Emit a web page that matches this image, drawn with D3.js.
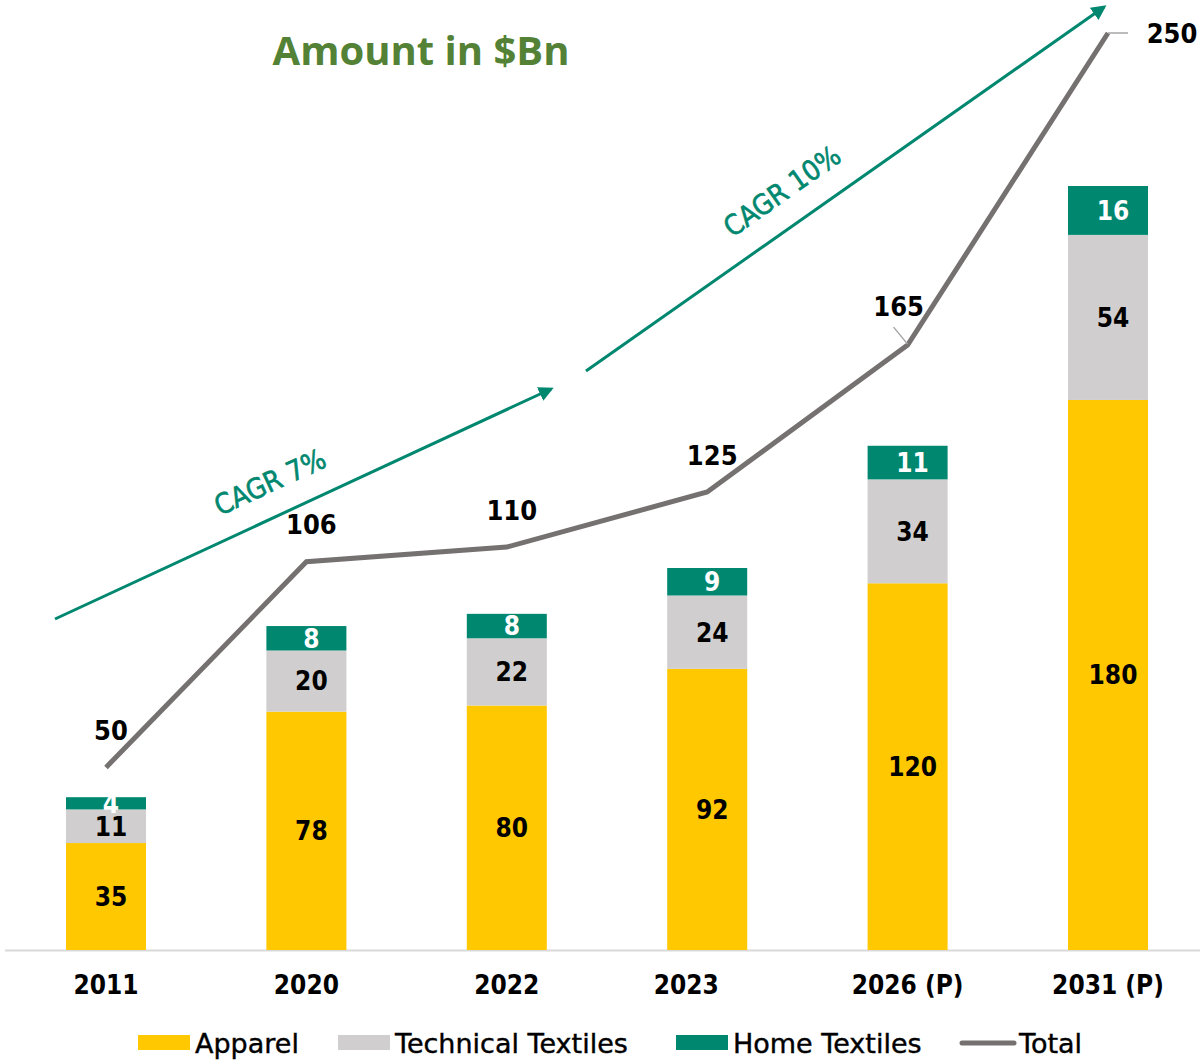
<!DOCTYPE html>
<html>
<head>
<meta charset="utf-8">
<script src="https://cdn.jsdelivr.net/npm/d3@7"></script>
<style>
  body { margin: 0; background: #fff; }
  text { font-family: "DejaVu Sans", sans-serif; font-stretch: condensed; }
</style>
</head>
<body>
<div id="chart"></div>
<script>
// data
const years = ["2011", "2020", "2022", "2023", "2026 (P)", "2031 (P)"];
const apparel = [35, 78, 80, 92, 120, 180];
const technical = [11, 20, 22, 24, 34, 54];
const home = [4, 8, 8, 9, 11, 16];
const total = [50, 106, 110, 125, 165, 250];
const seriesNames = ["Apparel", "Technical Textiles", "Home Textiles", "Total"];

const width = 1204, height = 1060;
const colors = {Apparel: "#ffc800", "Technical Textiles": "#d0cece", "Home Textiles": "#00876f", Total: "#767171"};

const svg = d3.select("#chart").append("svg")
    .attr("width", width)
    .attr("height", height);

// scales
const x = d3.scalePoint().domain(years).range([5.8, 1208.2]).padding(0.5);
const yBar = d3.scaleLinear().domain([0, 250]).range([950, 186]);
const yLine = d3.scaleLinear().domain([0, 250]).range([951, 33]);
const barW = 80;

// title
svg.append("text")
    .attr("x", 421).attr("y", 65)
    .attr("text-anchor", "middle")
    .style("font-family", "'Open Sans', sans-serif")
    .style("font-stretch", "normal")
    .style("font-weight", "bold")
    .style("font-size", "40px")
    .style("fill", "#538135")
    .text("Amount in $Bn");

// CAGR arrows
svg.append("defs").append("marker")
    .attr("id", "arrow")
    .attr("viewBox", "0 0 10 10")
    .attr("refX", 8).attr("refY", 5)
    .attr("markerWidth", 5).attr("markerHeight", 5)
    .attr("orient", "auto")
    .append("path")
    .attr("d", "M0,0 L10,5 L0,10 z")
    .style("fill", "#00876f");

const arrows = [
    {x1: 55, y1: 619, x2: 551, y2: 389, label: "CAGR 7%", lx: 270, ly: 482},
    {x1: 586, y1: 371, x2: 1104, y2: 7, label: "CAGR 10%", lx: 782, ly: 191}
];
arrows.forEach(function(a) {
    svg.append("line")
        .attr("x1", a.x1).attr("y1", a.y1)
        .attr("x2", a.x2).attr("y2", a.y2)
        .style("stroke", "#00876f")
        .style("stroke-width", 3)
        .attr("marker-end", "url(#arrow)");
    const ang = Math.atan2(a.y2 - a.y1, a.x2 - a.x1) * 180 / Math.PI;
    svg.append("text")
        .attr("transform", "translate(" + a.lx + "," + a.ly + ") rotate(" + ang + ")")
        .attr("text-anchor", "middle")
        .attr("dy", "0.35em")
        .style("font-size", "28px")
        .style("fill", "#00876f")
        .style("stroke", "#00876f")
        .style("stroke-width", 0.6)
        .text(a.label);
});

// x axis line
svg.append("line")
    .attr("x1", 5).attr("x2", 1200)
    .attr("y1", 950.5).attr("y2", 950.5)
    .style("stroke", "#d9d9d9")
    .style("stroke-width", 2);

// stacked bars
const rows = years.map(function(y, i) {
    return {year: y, Apparel: apparel[i], "Technical Textiles": technical[i], "Home Textiles": home[i]};
});
const stack = d3.stack().keys(["Apparel", "Technical Textiles", "Home Textiles"])(rows);

const layer = svg.selectAll(".layer")
    .data(stack)
    .enter().append("g")
    .attr("class", "layer")
    .style("fill", function(d) { return colors[d.key]; });

layer.selectAll("rect")
    .data(function(d) { return d; })
    .enter().append("rect")
    .attr("x", function(d) { return x(d.data.year) - barW / 2; })
    .attr("width", barW)
    .attr("y", function(d) { return yBar(d[1]); })
    .attr("height", function(d) { return yBar(d[0]) - yBar(d[1]); });

layer.selectAll("text")
    .data(function(d) { return d.map(function(v) { v.key = d.key; return v; }); })
    .enter().append("text")
    .attr("x", function(d) { return x(d.data.year) + 5; })
    .attr("y", function(d) { return (yBar(d[0]) + yBar(d[1])) / 2; })
    .attr("dy", "0.36em")
    .attr("text-anchor", "middle")
    .style("font-weight", "bold")
    .style("font-size", "26px")
    .style("fill", function(d) { return d.key === "Home Textiles" ? "#fff" : "#000"; })
    .text(function(d) { return d[1] - d[0]; });

// total line
const line = d3.line()
    .x(function(d, i) { return x(years[i]); })
    .y(function(d) { return yLine(d); });

svg.append("path")
    .datum(total)
    .attr("d", line)
    .style("fill", "none")
    .style("stroke", colors.Total)
    .style("stroke-width", 5);

// leader lines for moved labels
svg.append("line")
    .attr("x1", x(years[4]) - 14).attr("y1", yLine(total[4]) - 18)
    .attr("x2", x(years[4])).attr("y2", yLine(total[4]) - 1)
    .style("stroke", "#a6a6a6").style("stroke-width", 1.5);
svg.append("line")
    .attr("x1", x(years[5])).attr("y1", yLine(total[5]))
    .attr("x2", x(years[5]) + 20).attr("y2", yLine(total[5]))
    .style("stroke", "#a6a6a6").style("stroke-width", 1.5);

svg.selectAll(".total-label")
    .data(total)
    .enter().append("text")
    .attr("class", "total-label")
    .attr("x", function(d, i) {
        if (i === 4) return x(years[i]) - 9;
        if (i === 5) return x(years[i]) + 64;
        return x(years[i]) + 5;
    })
    .attr("y", function(d, i) {
        if (i === 4) return yLine(d) - 39;
        if (i === 5) return yLine(d);
        return yLine(d) - 37;
    })
    .attr("dy", "0.36em")
    .attr("text-anchor", "middle")
    .style("font-weight", "bold")
    .style("font-size", "27px")
    .style("fill", "#000")
    .text(function(d) { return d; });

// x labels
svg.selectAll(".xlabel")
    .data(years)
    .enter().append("text")
    .attr("class", "xlabel")
    .attr("x", function(d) { return x(d) + (d === "2023" ? -21 : 0); })
    .attr("y", 985)
    .attr("dy", "0.36em")
    .attr("text-anchor", "middle")
    .style("font-weight", "bold")
    .style("font-size", "26px")
    .style("fill", "#000")
    .text(function(d) { return d; });

// legend
const legendX = [138, 338, 676, 960];
const legend = svg.selectAll(".legend")
    .data(seriesNames)
    .enter().append("g")
    .attr("class", "legend")
    .attr("transform", function(d, i) { return "translate(" + legendX[i] + ",1043)"; });

legend.filter(function(d) { return d !== "Total"; })
    .append("rect")
    .attr("y", -8).attr("width", 52).attr("height", 15)
    .style("fill", function(d) { return colors[d]; });

legend.filter(function(d) { return d === "Total"; })
    .append("line")
    .attr("x1", 2).attr("x2", 54)
    .style("stroke", colors.Total)
    .style("stroke-width", 5)
    .style("stroke-linecap", "round");

legend.append("text")
    .attr("x", function(d) { return d === "Total" ? 59 : 57; })
    .attr("dy", "0.36em")
    .style("font-stretch", "normal")
    .style("font-size", "27px")
    .style("fill", "#000")
    .style("stroke", "#000")
    .style("stroke-width", 0.4)
    .text(function(d) { return d; });
</script>
</body>
</html>
